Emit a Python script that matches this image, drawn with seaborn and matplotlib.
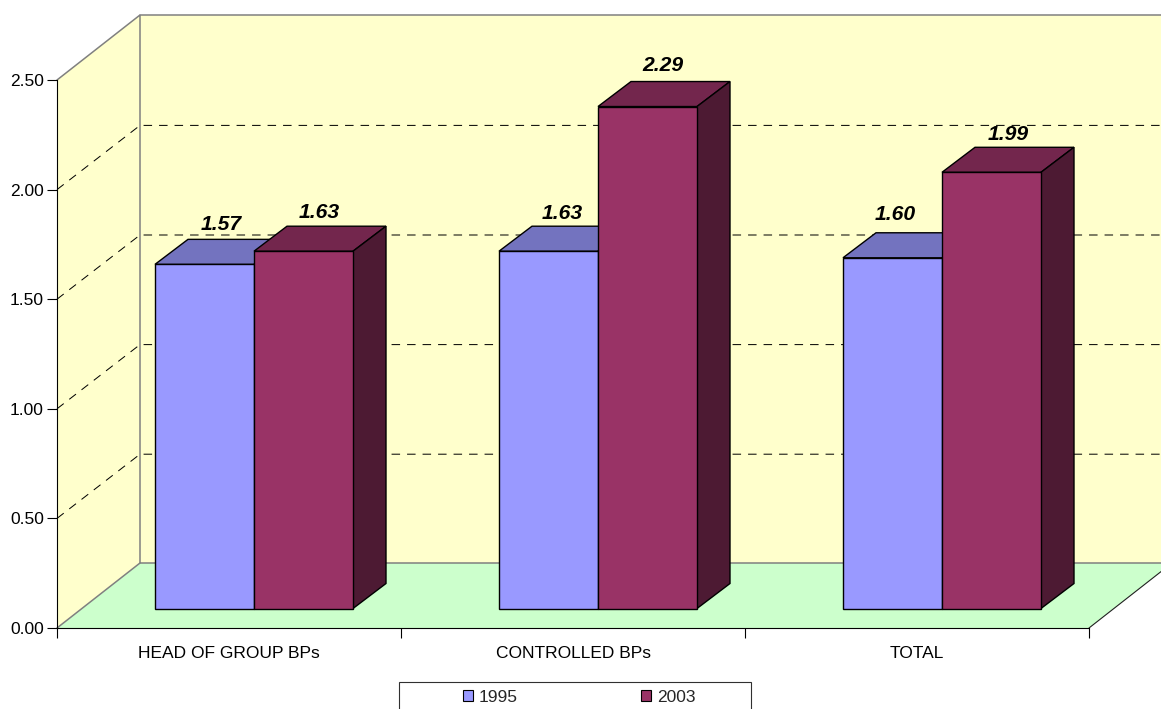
import matplotlib
matplotlib.use("Agg")
import matplotlib.pyplot as plt
from matplotlib.patches import Polygon, Rectangle
import pandas as pd
import seaborn as sns

categories = ["HEAD OF GROUP BPs", "CONTROLLED BPs", "TOTAL"]
values_1995 = [1.57, 1.63, 1.60]
values_2003 = [1.63, 2.29, 1.99]
years = ["1995", "2003"]
y_ticks = [0.0, 0.5, 1.0, 1.5, 2.0, 2.5]

FRONT = {"1995": "#9999FF", "2003": "#993366"}
TOP = {"1995": "#7373BF", "2003": "#73264D"}
SIDE = {"1995": "#4D4D80", "2003": "#4D1A33"}

# Hand placement of the value labels, px: sideways shift and height above the bar's back edge
LABEL_SHIFT = {"1995": [0, -3, -14], "2003": [-1, -1.5, 0]}
LABEL_GAP = {"1995": [9, 7, 13], "2003": [8, 11, 7]}

W, H = 1161, 709
LEFT, RIGHT, BASE, CEIL = 57, 1089, 628, 80   # front plane of the chart box, px
CAT_PX = (RIGHT - LEFT) / 3
UNIT_PX = (BASE - CEIL) / 2.5
FONT_SIZE = 12.5

sns.set_style("white")
plt.rcParams["font.family"] = ["Liberation Sans", "DejaVu Sans"]

fig = plt.figure(figsize=(W / 100, H / 100), dpi=100, facecolor="white")


def axes_at(x0, y_bottom, width, height):
    return fig.add_axes([x0 / W, (H - y_bottom) / H, width / W, height / H])


# Chart box: walls, floor and the value axis
ax = axes_at(LEFT, BASE, RIGHT - LEFT, BASE - CEIL)
ax.set_xlim(-0.5, 2.5)
ax.set_ylim(0, 2.5)
ax.set_facecolor("none")

wall_dx = 83 / CAT_PX
wall_dy = 65 / UNIT_PX
x0, x1 = -0.5, 2.5
x_edge = x1 + (W - RIGHT) / CAT_PX
x_back = x0 + wall_dx
floor_right_y = (W - RIGHT) / 83 * wall_dy
WALL = "#FFFFCC"
FLOOR = "#CCFFCC"
GRAY = "#808080"

ax.add_patch(Polygon([(x0, 0), (x0, 2.5), (x_back, 2.5 + wall_dy), (x_back, wall_dy)],
                     facecolor=WALL, edgecolor="none", clip_on=False, zorder=0.1))
ax.add_patch(Rectangle((x_back, wall_dy), x_edge - x_back, 2.5,
                       facecolor=WALL, edgecolor="none", clip_on=False, zorder=0.1))
ax.add_patch(Polygon([(x0, 0), (x_back, wall_dy), (x_edge, wall_dy), (x_edge, floor_right_y), (x1, 0)],
                     facecolor=FLOOR, edgecolor="none", clip_on=False, zorder=0.1))

# Gridlines run along the side wall and across the back wall
grid_rise = wall_dy - 0.8 / UNIT_PX
for tick in y_ticks[1:-1]:
    ax.plot([x0, x_back, x_edge], [tick, tick + grid_rise, tick + grid_rise], color="black",
            lw=0.72, dashes=(8.5, 7), clip_on=False, zorder=0.3)

ax.plot([x0, x_back, x_back, x_edge], [2.5, 2.5 + wall_dy, wall_dy, wall_dy],
        color=GRAY, lw=1.1, clip_on=False, zorder=0.4, solid_joinstyle="miter")
ax.plot([x_back, x_edge], [2.5 + wall_dy, 2.5 + wall_dy], color=GRAY, lw=1.1, clip_on=False, zorder=0.4)
ax.plot([x0, x_back], [0, wall_dy], color=GRAY, lw=1.1, clip_on=False, zorder=0.4)
ax.plot([x1, x_edge], [0, floor_right_y], color="#202020", lw=0.8, clip_on=False, zorder=0.4)

for side in ("top", "right"):
    ax.spines[side].set_visible(False)
for side in ("left", "bottom"):
    ax.spines[side].set_color("black")
    ax.spines[side].set_linewidth(0.8)
ax.set_yticks(y_ticks, [f"{t:.2f}" for t in y_ticks], fontsize=FONT_SIZE)
ax.set_xticks([-0.5, 0.5, 1.5, 2.5], ["", "", "", ""])
ax.set_xticks([0, 1, 2], categories, minor=True, fontsize=FONT_SIZE)
ax.tick_params(axis="y", which="major", left=True, length=7.2, width=0.8, pad=2.2, color="black", labelcolor="black")
ax.tick_params(axis="x", which="major", bottom=True, length=7.2, width=0.8, color="black")
ax.tick_params(axis="x", which="minor", bottom=False, length=0, pad=12.6, labelcolor="black")

# Bars sit on their own axes, set back from the front plane of the box
bars_ax = axes_at(LEFT + 25, BASE - 19.5, RIGHT - LEFT, BASE - CEIL)
bars_ax.set_facecolor("none")

table = pd.DataFrame({
    "category": categories * 2,
    "year": [years[0]] * 3 + [years[1]] * 3,
    "value": values_1995 + values_2003,
})
sns.barplot(data=table, x="category", y="value", hue="year", hue_order=years, order=categories,
            palette=FRONT, saturation=1, width=198 / CAT_PX, gap=0, edgecolor="black", linewidth=1.0,
            legend=False, ax=bars_ax)
bars_ax.set_xlim(-0.5, 2.5)
bars_ax.set_ylim(0, 2.5)
bars_ax.axis("off")

bar_dx = 33 / CAT_PX
bar_dy = 25 / UNIT_PX

for level, (year, container) in enumerate(zip(years, bars_ax.containers)):
    for idx, patch in enumerate(container.patches):
        patch.set_zorder(4 + 3 * level)
        patch.set_clip_on(False)
        left = patch.get_x()
        right = left + patch.get_width()
        height = patch.get_height()
        bars_ax.add_patch(Polygon(
            [(left, height), (right, height), (right + bar_dx, height + bar_dy), (left + bar_dx, height + bar_dy)],
            facecolor=TOP[year], edgecolor="black", lw=1.0, clip_on=False, zorder=3 + 3 * level))
        bars_ax.add_patch(Polygon(
            [(right, 0), (right, height), (right + bar_dx, height + bar_dy), (right + bar_dx, bar_dy)],
            facecolor=SIDE[year], edgecolor="black", lw=1.0, clip_on=False, zorder=3 + 3 * level))
        bars_ax.text((left + right + bar_dx) / 2 + LABEL_SHIFT[year][idx] / CAT_PX,
                     height + bar_dy + LABEL_GAP[year][idx] / UNIT_PX, f"{height:.2f}",
                     ha="center", va="baseline", fontsize=15.2, fontweight="bold", fontstyle="italic",
                     color="black", zorder=12)

# Legend panel runs off the bottom edge of the figure
fig.add_artist(Rectangle((399 / W, -10 / H), 352 / W, (709 - 682 + 10) / H, transform=fig.transFigure,
                         facecolor="white", edgecolor="#303030", lw=0.8))
handles = [Rectangle((0, 0), 1, 1, facecolor=FRONT[y], edgecolor="black", lw=0.8) for y in years]
fig.legend(handles, years, ncol=2, frameon=False, loc="center left",
           bbox_to_anchor=(463 / W, (H - 697) / H), borderpad=0, borderaxespad=0, fontsize=FONT_SIZE,
           handlelength=0.575, handleheight=0.575, handletextpad=0.35, columnspacing=7.09)

fig.savefig("out.png", dpi=100, facecolor="white")
